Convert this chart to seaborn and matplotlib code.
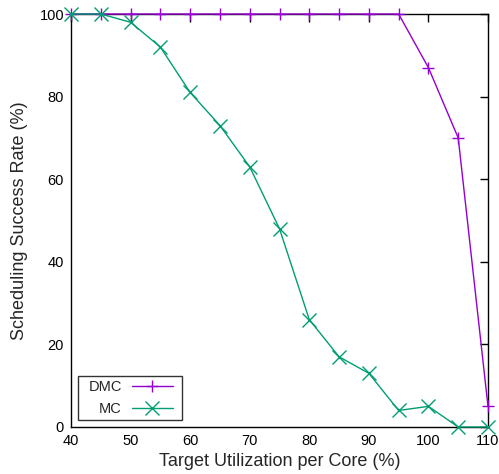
import matplotlib
matplotlib.use("Agg")
import matplotlib.pyplot as plt
import seaborn as sns
import pandas as pd
from matplotlib.offsetbox import DrawingArea

util = [40, 45, 50, 55, 60, 65, 70, 75, 80, 85, 90, 95, 100, 105, 110]
dmc = [100, 100, 100, 100, 100, 100, 100, 100, 100, 100, 100, 100, 87, 70, 5]
mc = [100, 100, 98, 92, 81, 73, 63, 48, 26, 17, 13, 4, 5, 0, 0]
x_ticks = [40, 50, 60, 70, 80, 90, 100, 110]
y_ticks = [0, 20, 40, 60, 80, 100]

sns.set_style("white")
plt.rcParams['font.family'] = ['Liberation Sans', 'DejaVu Sans']

fig = plt.figure(figsize=(4.99, 4.74), dpi=100)
ax = fig.add_axes([71/499, 47/474, 417/499, 413/474])

df = pd.DataFrame({"util": util + util,
                   "rate": dmc + mc,
                   "series": ["DMC"] * len(util) + ["MC"] * len(util)})

dmc_c = "#9400D3"
mc_c = "#009E73"
sns.lineplot(data=df[df.series == "DMC"], x="util", y="rate", ax=ax,
             color=dmc_c, marker="+", markersize=9, markeredgewidth=1.0,
             markeredgecolor=dmc_c, markerfacecolor=dmc_c,
             linewidth=1.0, label="DMC", clip_on=False, zorder=3)
sns.lineplot(data=df[df.series == "MC"], x="util", y="rate", ax=ax,
             color=mc_c, marker="x", markersize=9.5, markeredgewidth=1.0,
             markeredgecolor=mc_c, markerfacecolor=mc_c,
             linewidth=1.0, label="MC", clip_on=False, zorder=4)

ax.set_xlim(40, 110)
ax.set_ylim(0, 100)
ax.set_xticks(x_ticks)
ax.set_yticks(y_ticks)
ax.tick_params(direction="in", length=6, width=1, top=True, right=True,
               labelsize=10.5, pad=5, colors="black")
for s in ax.spines.values():
    s.set_visible(True)
    s.set_color("black")
    s.set_linewidth(1.0)
ax.set_xlabel("Target Utilization per Core (%)", fontsize=13, labelpad=4)
ax.set_ylabel("Scheduling Success Rate (%)", fontsize=13, labelpad=8)

leg = ax.legend(loc="lower left", markerfirst=False, frameon=True, fancybox=False,
                edgecolor="black", fontsize=10.5, handlelength=2.8, handletextpad=0.9,
                borderaxespad=0.45, borderpad=0.3, labelspacing=0.55)
leg.get_frame().set_linewidth(1.0)
# gnuplot-like horizontal padding inside the legend box
for col in leg._legend_handle_box.get_children():
    for item in col.get_children():
        kids = item.get_children()
        text_box, handle_box = kids[0], kids[1]
        kids[:] = [DrawingArea(4.8, 1), text_box, DrawingArea(7.2, 1),
                   handle_box, DrawingArea(3.3, 1)]
        item.sep = 0

fig.savefig("out.png", dpi=100)
